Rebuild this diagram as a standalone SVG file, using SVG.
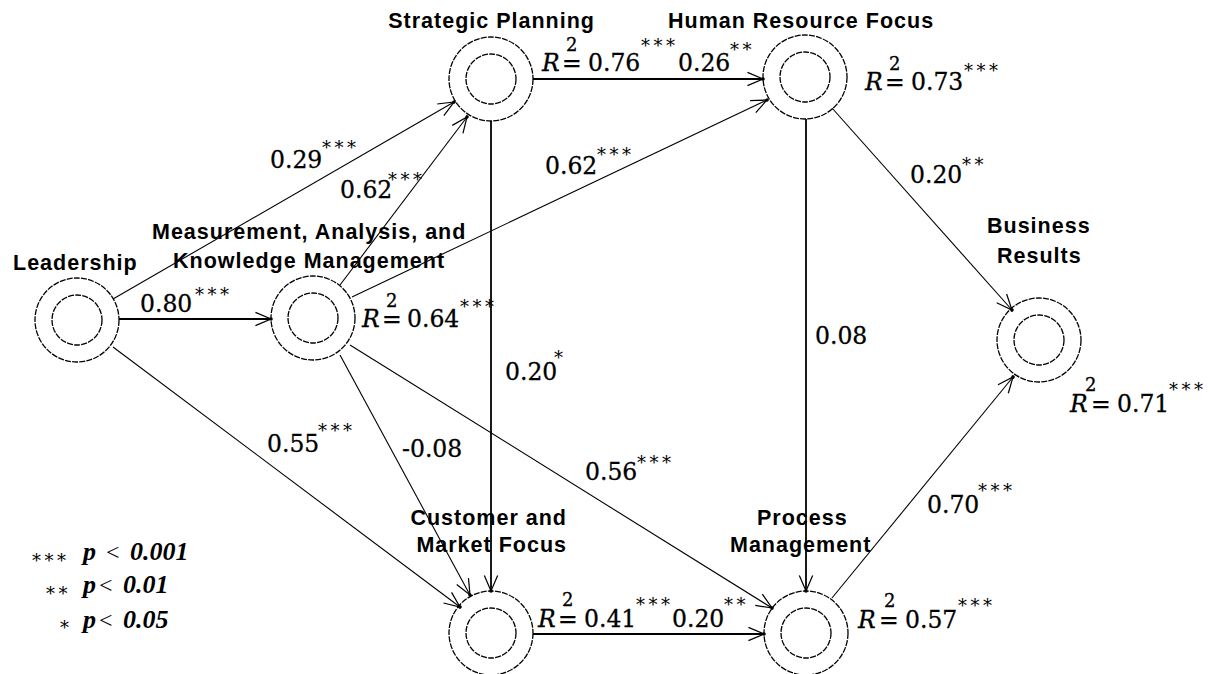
<svg xmlns="http://www.w3.org/2000/svg" width="1212" height="674" viewBox="0 0 1212 674">
  <defs>
    <style>
      .lbl { font-family: "Liberation Sans", Arial, sans-serif; font-weight: bold; font-size: 21.5px; letter-spacing: 1px; fill: #000; }
      .num { font-family: "DejaVu Serif", "Liberation Serif", serif; font-size: 23.5px; fill: #000; stroke: #000; stroke-width: 0.3; }
      .it { font-style: italic; }
      .sq { font-family: "DejaVu Serif", "Liberation Serif", serif; font-size: 18px; fill: #000; stroke: #000; stroke-width: 0.3; }
      .ast { font-family: "DejaVu Serif", "Liberation Serif", serif; font-size: 18px; letter-spacing: 3.5px; fill: #000; }
      .leg { font-family: "Liberation Serif", "Times New Roman", serif; font-weight: bold; font-style: italic; font-size: 26px; fill: #000; }
      .lt { font-family: "Liberation Serif", "Times New Roman", serif; font-size: 24px; fill: #000; }
      .ring { fill: none; stroke: #000; stroke-width: 1.3; stroke-dasharray: 6 1.2; }
      .edge { fill: none; stroke: #000; stroke-width: 1.1; marker-end: url(#arrow); }
      .edge.ortho { stroke-width: 1.8; }
    </style>
    <marker id="arrow" markerUnits="userSpaceOnUse" markerWidth="20" markerHeight="20" viewBox="-16 -9 18 18" refX="0" refY="0" orient="auto">
      <path d="M-14,-6 L0,0 L-14,6" fill="none" stroke="#000" stroke-width="1.1"/>
      <circle cx="0" cy="0" r="1.6" fill="#000"/>
    </marker>
    <g id="node">
      <circle class="ring" r="42"/>
      <circle class="ring" r="25"/>
    </g>
  </defs>

  <rect width="1212" height="674" fill="#fff"/>

  <!-- connectors -->
  <g id="connectors">
    <line class="edge ortho" x1="119" y1="319" x2="271" y2="319"/>
    <line class="edge" x1="113" y1="299" x2="454" y2="102"/>
    <line class="edge" x1="113" y1="347" x2="460" y2="607"/>
    <line class="edge" x1="340" y1="285" x2="467" y2="117"/>
    <line class="edge" x1="352" y1="297" x2="767" y2="100"/>
    <line class="edge" x1="340" y1="355" x2="470" y2="595"/>
    <line class="edge" x1="350" y1="345" x2="772" y2="608"/>
    <line class="edge ortho" x1="491" y1="121" x2="491" y2="591"/>
    <line class="edge ortho" x1="533" y1="79" x2="763" y2="79"/>
    <line class="edge ortho" x1="806" y1="119" x2="806" y2="591"/>
    <line class="edge" x1="832" y1="108" x2="1012" y2="310"/>
    <line class="edge ortho" x1="533" y1="634" x2="764" y2="634"/>
    <line class="edge" x1="832" y1="598" x2="1013" y2="377"/>
  </g>

  <!-- nodes -->
  <g id="leadership">
    <use href="#node" x="77" y="320"/>
    <text class="lbl" x="13" y="270">Leadership</text>
  </g>
  <g id="measurement">
    <use href="#node" x="313" y="318"/>
    <text class="lbl" x="152" y="239">Measurement, Analysis, and</text>
    <text class="lbl" x="173" y="268">Knowledge Management</text>
  </g>
  <g id="strategic-planning">
    <use href="#node" x="491" y="79"/>
    <text class="lbl" x="595" y="28" text-anchor="end">Strategic Planning</text>
  </g>
  <g id="human-resource-focus">
    <use href="#node" x="805" y="77"/>
    <text class="lbl" x="668" y="28">Human Resource Focus</text>
  </g>
  <g id="customer-market-focus">
    <use href="#node" x="491" y="633"/>
    <text class="lbl" x="567" y="525" text-anchor="end">Customer and</text>
    <text class="lbl" x="567" y="552" text-anchor="end">Market Focus</text>
  </g>
  <g id="process-management">
    <use href="#node" x="806" y="633"/>
    <text class="lbl" x="757" y="525">Process</text>
    <text class="lbl" x="730" y="552">Management</text>
  </g>
  <g id="business-results">
    <use href="#node" x="1039" y="340"/>
    <text class="lbl" x="987" y="233">Business</text>
    <text class="lbl" x="997" y="263">Results</text>
  </g>

  <!-- path coefficients -->
  <g id="coefficients">
    <text class="num" x="140" y="312">0.80</text><text class="ast" x="195" y="301">***</text>
    <text class="num" x="270" y="168">0.29</text><text class="ast" x="322" y="154">***</text>
    <text class="num" x="340" y="198">0.62</text><text class="ast" x="388" y="186">***</text>
    <text class="num" x="545" y="174">0.62</text><text class="ast" x="597" y="161">***</text>
    <text class="num" x="678" y="71">0.26</text><text class="ast" x="730" y="56">**</text>
    <text class="num" x="505" y="380">0.20</text><text class="ast" x="554" y="364">*</text>
    <text class="num" x="815" y="344">0.08</text>
    <text class="num" x="910" y="183">0.20</text><text class="ast" x="962" y="171">**</text>
    <text class="num" x="267" y="452">0.55</text><text class="ast" x="318" y="437">***</text>
    <text class="num" x="402" y="457">-0.08</text>
    <text class="num" x="585" y="480">0.56</text><text class="ast" x="637" y="469">***</text>
    <text class="num" x="927" y="513">0.70</text><text class="ast" x="978" y="497">***</text>
    <text class="num" x="672" y="627">0.20</text><text class="ast" x="724" y="611">**</text>
  </g>

  <!-- explained variance -->
  <g id="r-squared">
    <text class="num"><tspan class="it" x="542" y="71">R</tspan><tspan x="562" y="71">=</tspan><tspan x="588" y="71">0.76</tspan></text>
    <text class="sq" x="566" y="51">2</text><text class="ast" x="641" y="52">***</text>

    <text class="num"><tspan class="it" x="865" y="90">R</tspan><tspan x="885" y="90">=</tspan><tspan x="911" y="90">0.73</tspan></text>
    <text class="sq" x="889" y="70">2</text><text class="ast" x="964" y="77">***</text>

    <text class="num"><tspan class="it" x="362" y="327">R</tspan><tspan x="382" y="327">=</tspan><tspan x="407" y="327">0.64</tspan></text>
    <text class="sq" x="386" y="307">2</text><text class="ast" x="460" y="313">***</text>

    <text class="num"><tspan class="it" x="538" y="627">R</tspan><tspan x="558" y="627">=</tspan><tspan x="584" y="627">0.41</tspan></text>
    <text class="sq" x="562" y="606">2</text><text class="ast" x="636" y="611">***</text>

    <text class="num"><tspan class="it" x="858" y="628">R</tspan><tspan x="879" y="628">=</tspan><tspan x="905" y="628">0.57</tspan></text>
    <text class="sq" x="884" y="607">2</text><text class="ast" x="958" y="612">***</text>

    <text class="num"><tspan class="it" x="1070" y="412">R</tspan><tspan x="1091" y="412">=</tspan><tspan x="1117" y="412">0.71</tspan></text>
    <text class="sq" x="1085" y="391">2</text><text class="ast" x="1169" y="396">***</text>
  </g>

  <!-- significance legend -->
  <g id="legend">
    <text class="ast" x="32" y="567">***</text>
    <text class="leg" x="83" y="560">p</text><text class="lt" x="106" y="560">&lt;</text><text class="leg" x="130" y="560">0.001</text>
    <text class="ast" x="46" y="600">**</text>
    <text class="leg" x="83" y="593">p</text><text class="lt" x="99" y="593">&lt;</text><text class="leg" x="123" y="593">0.01</text>
    <text class="ast" x="60" y="634">*</text>
    <text class="leg" x="83" y="628">p</text><text class="lt" x="99" y="628">&lt;</text><text class="leg" x="123" y="628">0.05</text>
  </g>
</svg>
